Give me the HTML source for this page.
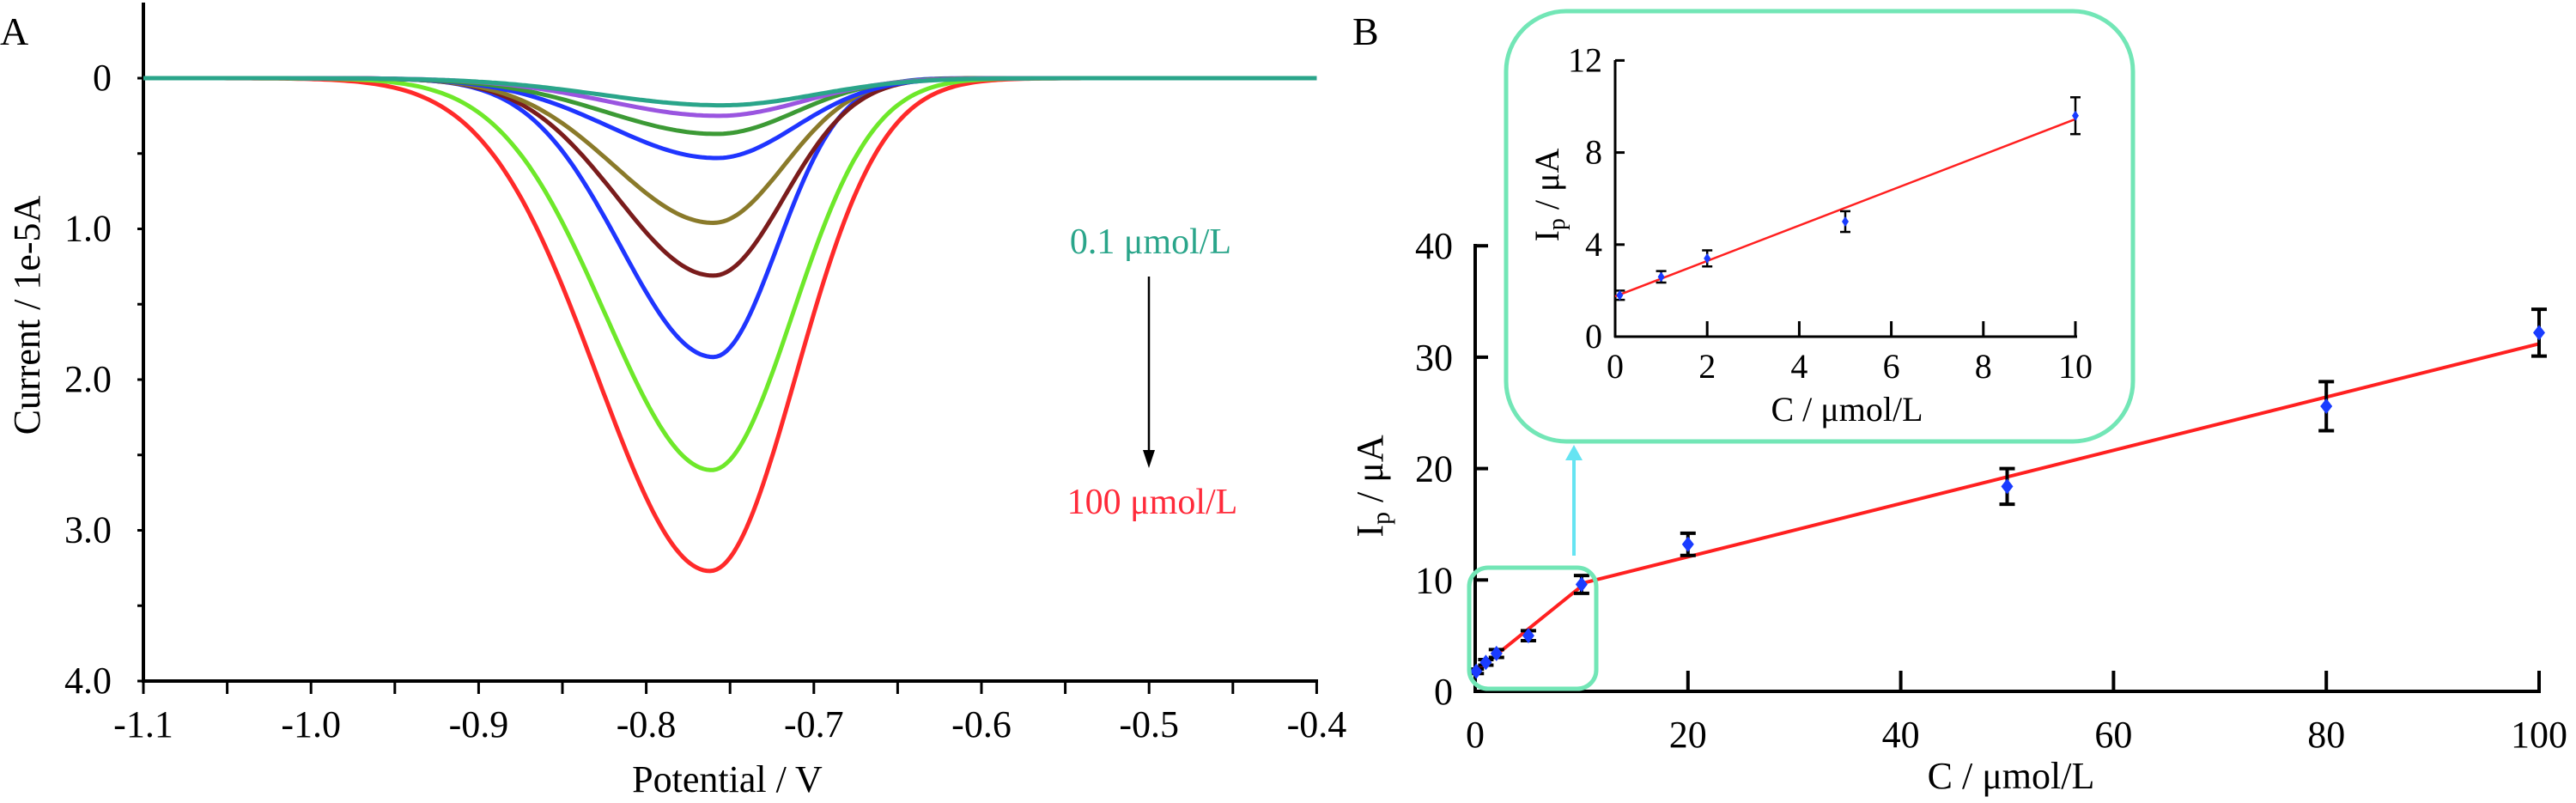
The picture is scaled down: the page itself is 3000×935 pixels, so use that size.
<!DOCTYPE html>
<html><head><meta charset="utf-8"><style>
html,body{margin:0;padding:0;background:#fff}
svg{display:block}
text{font-family:"Liberation Serif",serif}
</style></head><body>
<svg id="fig" width="3000" height="935" viewBox="0 0 3000 935" xmlns="http://www.w3.org/2000/svg" font-family="Liberation Serif, serif">
<g id="pA"></g>
<g id="pB"></g>
</svg>
<script>
// ---------- Panel A data ----------
const aXTicks = [-1.1,-1.0,-0.9,-0.8,-0.7,-0.6,-0.5,-0.4];
const aXTickLabels = ["-1.1","-1.0","-0.9","-0.8","-0.7","-0.6","-0.5","-0.4"];
const aYTicks = [0,1,2,3,4];
const aYTickLabels = ["0","1.0","2.0","3.0","4.0"];
const aPeakHeights = [0.18,0.25,0.37,0.53,0.96,1.31,1.85,2.60,3.27];
const aPeakPos = [-0.755,-0.757,-0.758,-0.758,-0.76,-0.76,-0.76,-0.761,-0.762];
const aSigmaL = [0.072,0.067,0.066,0.064,0.059,0.057,0.055,0.063,0.067];
const aSigmaR = [0.056,0.051,0.047,0.047,0.042,0.042,0.038,0.048,0.051];
const aColors = ["#2aa58a","#9a55e0","#3c9a35","#1f35ff","#8a7a2a","#7a1c1c","#1f35ff","#6ee82a","#ff2a2a"];

// ---------- Panel B data ----------
const bConc = [0.1,1,2,5,10,20,50,80,100];
const bIp = [1.8,2.6,3.4,5.0,9.6,13.2,18.4,25.6,32.2];
const bErr = [0.2,0.25,0.35,0.45,0.8,1.0,1.6,2.2,2.1];
const bXTicks = [0,20,40,60,80,100];
const bYTicks = [0,10,20,30,40];
const insetXTicks = [0,2,4,6,8,10];
const insetYTicks = [0,4,8,12];
const fit1 = [1.75,0.77];   // intercept, slope (0-10)
const fit2 = [7.3,0.239];   // intercept, slope (10-100)

const NS="http://www.w3.org/2000/svg";
function mk(parent,tag,attrs,name,txt){
  const e=document.createElementNS(NS,tag);
  for(const k in attrs) e.setAttribute(k,attrs[k]);
  
  
  if(tag==='text') e.setAttribute('font-family','Liberation Serif, serif');
  if(txt!==undefined) e.textContent=txt;
  parent.appendChild(e); return e;
}
// ----- Panel A -----
const A=document.getElementById('pA');
const ax=v=>167+(v+1.1)/0.1*195.2;
const ay=v=>91+v*175.5;
mk(A,'line',{x1:167,y1:3,x2:167,y2:794,stroke:'#000','stroke-width':4},'a-y-axis');
mk(A,'line',{x1:165,y1:793,x2:1535,y2:793,stroke:'#000','stroke-width':4},'a-x-axis');
for(let v=-1.1;v<=-0.399;v+=0.05){
  mk(A,'line',{x1:ax(v),y1:793,x2:ax(v),y2:808,stroke:'#000','stroke-width':3},'a-x-tick');
}
aXTicks.forEach((v,i)=>mk(A,'text',{x:ax(v),y:858,'font-size':44,'text-anchor':'middle'},'a-x-tick-label',aXTickLabels[i]));
for(let v=0;v<=4.01;v+=0.5){
  mk(A,'line',{x1:160,y1:ay(v),x2:167,y2:ay(v),stroke:'#000','stroke-width':3},'a-y-tick');
}
aYTicks.forEach((v,i)=>mk(A,'text',{x:130,y:ay(v)+14,'font-size':44,'text-anchor':'end'},'a-y-tick-label',aYTickLabels[i]));
mk(A,'text',{x:847,y:922,'font-size':44,'text-anchor':'middle'},'a-x-axis-title','Potential / V');
mk(A,'text',{x:0,y:0,'font-size':44,'text-anchor':'middle',transform:'translate(46,367) rotate(-90)'},'a-y-axis-title','Current / 1e-5A');
mk(A,'text',{x:0,y:52,'font-size':46},'panel-a-label','A');
for(let i=aPeakHeights.length-1;i>=0;i--){
  let d='';
  for(let x=-1.1;x<=-0.3999;x+=0.002){
    const s=x<aPeakPos[i]?aSigmaL[i]:aSigmaR[i];
    const y=aPeakHeights[i]*Math.exp(-Math.pow(x-aPeakPos[i],2)/(2*s*s));
    d+=(d?'L':'M')+ax(x).toFixed(1)+','+ay(y).toFixed(1);
  }
  mk(A,'path',{d:d,fill:'none',stroke:aColors[i],'stroke-width':5},'a-curve-'+i);
}
mk(A,'text',{x:1340,y:295,'font-size':42,'text-anchor':'middle',fill:'#2aa58a'},'label-low-conc','0.1 μmol/L');
mk(A,'line',{x1:1338,y1:322,x2:1338,y2:530,stroke:'#000','stroke-width':2.5},'arrow-line');
mk(A,'path',{d:'M1331,524 L1345,524 L1338,545 Z',fill:'#000'},'arrow-head');
mk(A,'text',{x:1342,y:598,'font-size':42,'text-anchor':'middle',fill:'#ff2a3a'},'label-high-conc','100 μmol/L');

// ----- Panel B -----
const B=document.getElementById('pB');
const bx=v=>1718+v*12.39;
const by=v=>805-v*12.97;
mk(B,'line',{x1:1718,y1:284,x2:1718,y2:807,stroke:'#000','stroke-width':4},'b-y-axis');
mk(B,'line',{x1:1716,y1:805,x2:2959,y2:805,stroke:'#000','stroke-width':4},'b-x-axis');
bXTicks.forEach(v=>{
  if(v>0) mk(B,'line',{x1:bx(v),y1:805,x2:bx(v),y2:781,stroke:'#000','stroke-width':4},'b-x-tick');
  mk(B,'text',{x:bx(v),y:870,'font-size':44,'text-anchor':'middle'},'b-x-tick-label',String(v));
});
bYTicks.forEach(v=>{
  if(v>0) mk(B,'line',{x1:1718,y1:by(v),x2:1733,y2:by(v),stroke:'#000','stroke-width':4},'b-y-tick');
  mk(B,'text',{x:1692,y:by(v)+15,'font-size':44,'text-anchor':'end'},'b-y-tick-label',String(v));
});
mk(B,'text',{x:2342,y:918,'font-size':44,'text-anchor':'middle'},'b-x-axis-title','C / μmol/L');
const yt=mk(B,'text',{x:0,y:0,'font-size':44,'text-anchor':'middle',transform:'translate(1610,566) rotate(-90)'},'b-y-axis-title','');
yt.innerHTML='I<tspan font-size="30" dy="8">p</tspan><tspan dy="-8"> / μA</tspan>';
mk(B,'text',{x:1575,y:52,'font-size':46},'panel-b-label','B');
mk(B,'line',{x1:bx(0),y1:by(fit1[0]),x2:bx(10),y2:by(fit1[0]+fit1[1]*10),stroke:'#ff2020','stroke-width':4},'b-fit-line-low');
mk(B,'line',{x1:bx(10),y1:by(fit2[0]+fit2[1]*10),x2:bx(100),y2:by(fit2[0]+fit2[1]*100),stroke:'#ff2020','stroke-width':4},'b-fit-line-high');
bConc.forEach((c,i)=>{
  const x=bx(c);
  mk(B,'line',{x1:x,y1:by(bIp[i]-bErr[i]),x2:x,y2:by(bIp[i]+bErr[i]),stroke:'#000','stroke-width':4},'b-error-bar');
  mk(B,'line',{x1:x-9,y1:by(bIp[i]-bErr[i]),x2:x+9,y2:by(bIp[i]-bErr[i]),stroke:'#000','stroke-width':4},'b-error-cap');
  mk(B,'line',{x1:x-9,y1:by(bIp[i]+bErr[i]),x2:x+9,y2:by(bIp[i]+bErr[i]),stroke:'#000','stroke-width':4},'b-error-cap');
  const y=by(bIp[i]);
  mk(B,'path',{d:`M${x},${y-9}L${x+7},${y}L${x},${y+9}L${x-7},${y}Z`,fill:'#1a3cff'},'b-point');
});
mk(B,'rect',{x:1711,y:661,width:148,height:141,rx:22,fill:'none',stroke:'#72e6b6','stroke-width':5},'zoom-region-box');
mk(B,'line',{x1:1833,y1:647,x2:1833,y2:532,stroke:'#66e4f2','stroke-width':4},'zoom-arrow-line');
mk(B,'path',{d:'M1823,536 L1843,536 L1833,518 Z',fill:'#66e4f2'},'zoom-arrow-head');
// inset
mk(B,'rect',{x:1754,y:13,width:730,height:501,rx:70,fill:'#fff',stroke:'#72e6b6','stroke-width':5},'inset-box');
const ix=v=>1881+v*53.6;
const iy=v=>392-v*26.8;
mk(B,'line',{x1:1881,y1:70,x2:1881,y2:393,stroke:'#000','stroke-width':3},'inset-y-axis');
mk(B,'line',{x1:1880,y1:392,x2:2419,y2:392,stroke:'#000','stroke-width':3},'inset-x-axis');
insetXTicks.forEach(v=>{
  if(v>0) mk(B,'line',{x1:ix(v),y1:392,x2:ix(v),y2:374,stroke:'#000','stroke-width':3},'inset-x-tick');
  mk(B,'text',{x:ix(v),y:440,'font-size':40,'text-anchor':'middle'},'inset-x-tick-label',String(v));
});
insetYTicks.forEach(v=>{
  if(v>0) mk(B,'line',{x1:1881,y1:iy(v),x2:1892,y2:iy(v),stroke:'#000','stroke-width':3},'inset-y-tick');
  mk(B,'text',{x:1866,y:iy(v)+13,'font-size':40,'text-anchor':'end'},'inset-y-tick-label',String(v));
});
mk(B,'text',{x:2151,y:490,'font-size':40,'text-anchor':'middle'},'inset-x-axis-title','C / μmol/L');
const it=mk(B,'text',{x:0,y:0,'font-size':40,'text-anchor':'middle',transform:'translate(1815,227) rotate(-90)'},'inset-y-axis-title','');
it.innerHTML='I<tspan font-size="28" dy="7">p</tspan><tspan dy="-7"> / μA</tspan>';
mk(B,'line',{x1:ix(0),y1:iy(fit1[0]),x2:ix(10),y2:iy(fit1[0]+fit1[1]*10),stroke:'#ff2020','stroke-width':2.5},'inset-fit-line');
bConc.forEach((c,i)=>{
  if(c>10) return;
  const x=ix(c);
  mk(B,'line',{x1:x,y1:iy(bIp[i]-bErr[i]),x2:x,y2:iy(bIp[i]+bErr[i]),stroke:'#000','stroke-width':2.5},'inset-error-bar');
  mk(B,'line',{x1:x-6,y1:iy(bIp[i]-bErr[i]),x2:x+6,y2:iy(bIp[i]-bErr[i]),stroke:'#000','stroke-width':2.5},'inset-error-cap');
  mk(B,'line',{x1:x-6,y1:iy(bIp[i]+bErr[i]),x2:x+6,y2:iy(bIp[i]+bErr[i]),stroke:'#000','stroke-width':2.5},'inset-error-cap');
  const y=iy(bIp[i]);
  mk(B,'path',{d:`M${x},${y-6}L${x+4},${y}L${x},${y+6}L${x-4},${y}Z`,fill:'#1a3cff'},'inset-point');
});
</script>
</body></html>
